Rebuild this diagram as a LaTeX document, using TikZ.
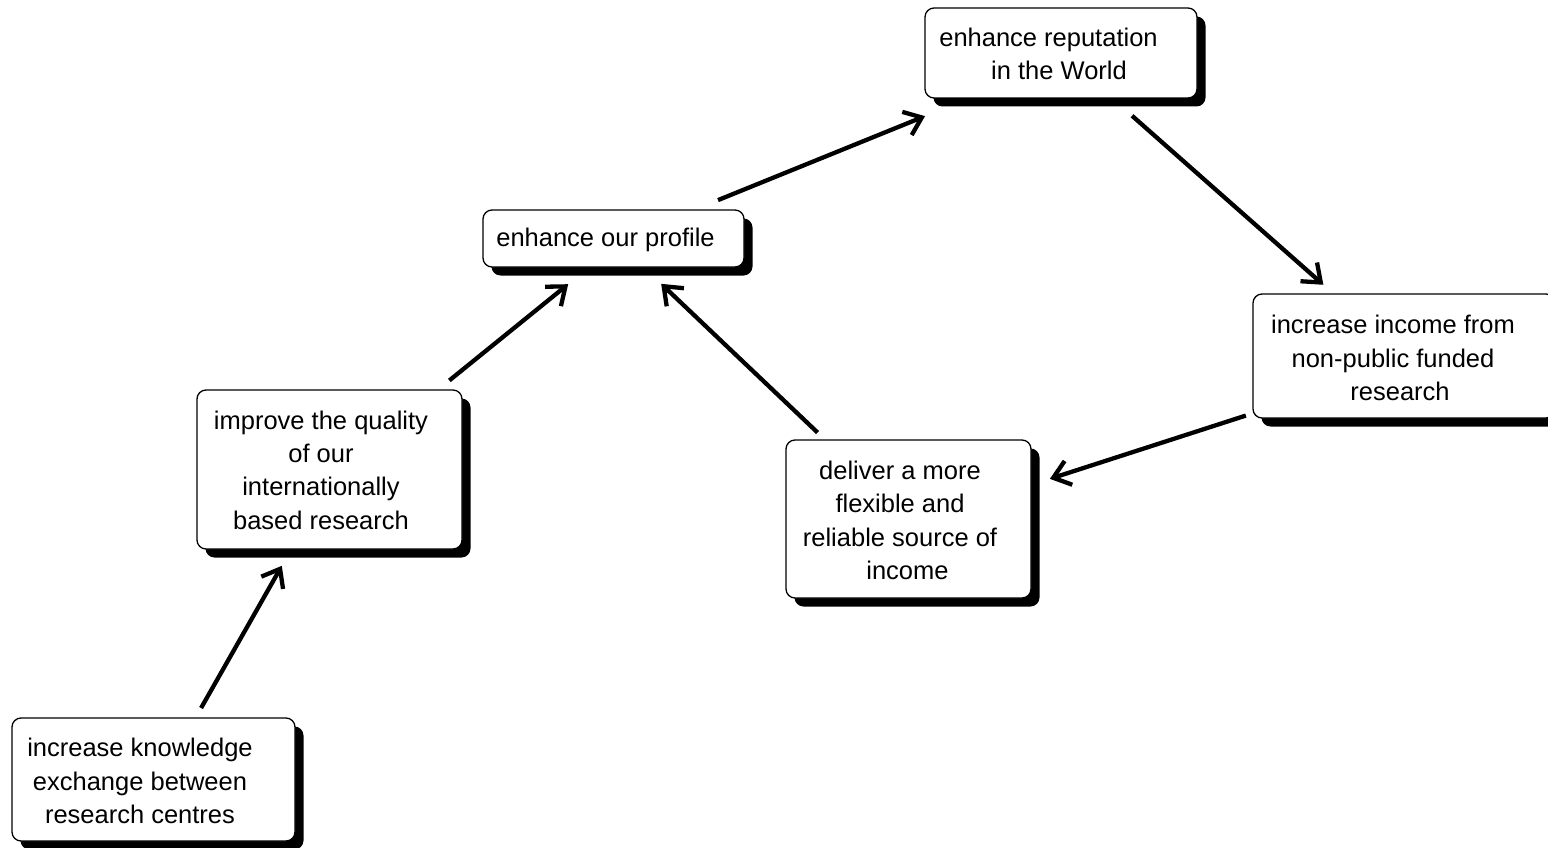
\documentclass[tikz,border=0pt]{standalone}
\usepackage{fontspec}
\setmainfont{Liberation Sans}
\usetikzlibrary{arrows.meta,shadows,calc}
\begin{document}
\begin{tikzpicture}[x=1pt,y=-1pt,
  box/.style={draw=black, line width=1.3pt, fill=white, rounded corners=9pt,
    inner sep=0pt, outer sep=0pt,
    drop shadow={fill=black, opacity=1, shadow xshift=8.5pt, shadow yshift=-8.5pt}},
  lbl/.style={align=center, inner sep=0pt, font=\fontsize{25.5}{33.3}\selectfont},
  arr/.style={line width=4.3pt, -{Straight Barb[length=16pt,width=25pt]}}]
\useasboundingbox (0,0) rectangle (1548,848);
\begin{scope}
\clip (0,0) rectangle (1548,848);
\node[box, minimum width=272pt, minimum height=90pt] (rep) at (1061,53) {};
\node[box, minimum width=261pt, minimum height=57pt] (prof) at (613.5,238.5) {};
\node[box, minimum width=265pt, minimum height=159pt] (qual) at (329.5,469.5) {};
\node[box, minimum width=245pt, minimum height=158pt] (deliv) at (908.5,519) {};
\node[box, minimum width=302pt, minimum height=124pt] (inc) at (1404,356) {};
\node[box, minimum width=283pt, minimum height=123pt] (know) at (153.5,779.5) {};
\end{scope}
\node[lbl] (rep-t) at (1059,54) {enhance reputation\hspace*{21pt}\\in the World};
\node[lbl] (prof-t) at (605.5,240) {enhance our profile};
\node[lbl] (qual-t) at (321,470) {improve the quality\\of our\\internationally\\based research};
\node[lbl] (deliv-t) at (900,520.5) {deliver a more\\flexible and\\reliable source of\\\hspace*{15pt}income};
\node[lbl] (inc-t) at (1393,358) {increase income from\\non-public funded\\\hspace*{14pt}research};
\node[lbl] (know-t) at (140,781) {increase knowledge\\exchange between\\research centres};
\draw[arr, shorten <=82.2pt, shorten >=110.8pt] ($(know)+(7,0)$) -- ($(qual)+(7,0)$);
\draw[arr, shorten <=154.2pt, shorten >=58.3pt] ($(qual)+(0,8)$) -- ($(prof)+(0,9)$);
\draw[arr, shorten <=125.5pt, shorten >=65.8pt] (deliv.center) -- (prof.center);
\draw[arr, shorten <=112.8pt, shorten >=146.7pt] ($(prof)+(0,4)$) -- ($(rep)+(0,8)$);
\draw[arr, shorten <=94.8pt, shorten >=107.6pt] (rep.center) -- (inc.center);
\draw[arr, shorten <=166.2pt, shorten >=148.6pt] ($(inc)+(0,8.5)$) -- ($(deliv)+(0,5.5)$);
\end{tikzpicture}
\end{document}
